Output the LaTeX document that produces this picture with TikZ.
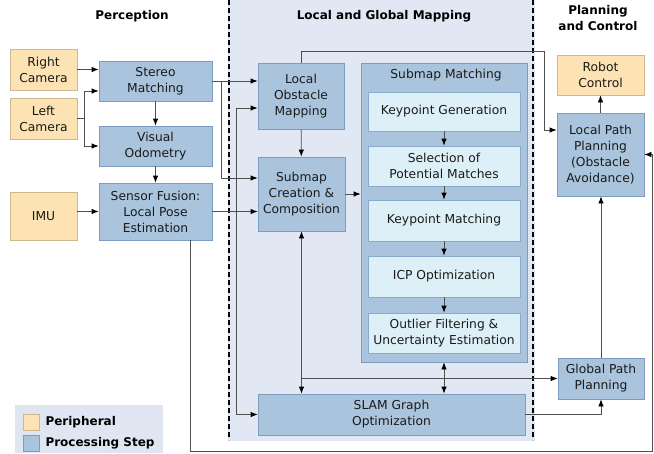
\documentclass[tikz,border=0pt]{standalone}
\usepackage{fontspec}
\setmainfont{DejaVu Sans}
\usetikzlibrary{arrows.meta}
\definecolor{pfill}{HTML}{FDE3B4}
\definecolor{pbord}{HTML}{CDB98F}
\definecolor{bfill}{HTML}{A9C4DC}
\definecolor{bbord}{HTML}{7C9DC0}
\definecolor{ifill}{HTML}{DDEFF7}
\definecolor{ibord}{HTML}{89AACB}
\definecolor{panel}{HTML}{E1E8F4}
\definecolor{legbg}{HTML}{DFE6F1}
\definecolor{lcol}{HTML}{505050}
\definecolor{txt}{HTML}{1A1A1A}
\tikzset{
  box/.style={draw=bbord, fill=bfill, line width=0.8pt, align=center, inner sep=0pt,
    font=\fontsize{12.3}{16}\selectfont, text=txt},
  per/.style={box, draw=pbord, fill=pfill},
  inbox/.style={box, draw=ibord, fill=ifill},
  ttl/.style={font=\fontsize{12}{16}\selectfont\bfseries, align=center, text=black},
  conn/.style={draw=lcol, line width=0.8pt},
  arr/.style={conn, -{Latex[length=7pt,width=5.5pt,color=black]}},
  both/.style={conn, {Latex[length=7pt,width=5.5pt,color=black]}-{Latex[length=7pt,width=5.5pt,color=black]}},
  sep/.style={draw=black, line width=1.1pt, dash pattern=on 5pt off 3pt}
}
\begin{document}
\begin{tikzpicture}[x=1pt,y=-1pt]
\useasboundingbox (0,0) rectangle (654,453);
% panel and separators
\fill[panel] (228,0) rectangle (535,441);
\draw[sep] (229,0) -- (229,440);
\draw[sep] (533,0) -- (533,440);
% titles
\node[ttl] (t1) at (132,16) {Perception};
\node[ttl] (t2) at (384,16) {Local and Global Mapping};
\node[ttl] (t3) at (598,18) {Planning\\and Control};
% legend
\fill[legbg] (15,405) rectangle (163,453);
\node[per, minimum width=16pt, minimum height=16pt] (lg1) at (31,422) {};
\node[box, minimum width=16pt, minimum height=16pt] (lg2) at (31,443) {};
\node[ttl, anchor=west] (lt1) at (42,422) {Peripheral};
\node[ttl, anchor=west] (lt2) at (42,443) {Processing Step};
% perception
\node[per, minimum width=67pt, minimum height=41pt] (rc) at (43.5,69.5) {Right\\Camera};
\node[per, minimum width=67pt, minimum height=41pt] (lc) at (43.5,118.5) {Left\\Camera};
\node[per, minimum width=67pt, minimum height=48pt] (imu) at (43.5,216) {IMU};
\node[box, minimum width=113pt, minimum height=40pt] (sm) at (155.5,81) {Stereo\\Matching};
\node[box, minimum width=113pt, minimum height=40pt] (vo) at (155.5,146) {Visual\\Odometry};
\node[box, minimum width=113pt, minimum height=57pt] (sf) at (155.5,211.5) {Sensor Fusion:\\Local Pose\\Estimation};
% mapping
\node[box, minimum width=86pt, minimum height=66pt] (lom) at (301,96) {Local\\Obstacle\\Mapping};
\node[box, minimum width=87pt, minimum height=74pt] (sc) at (301.5,194) {Submap\\Creation \&\\Composition};
\node[box, minimum width=166pt, minimum height=299pt] (smc) at (444,212.5) {};
\node[box, draw=none, fill=none] (smt) at (446,75) {Submap Matching};
\node[inbox, minimum width=152pt, minimum height=39pt] (kg) at (444,111.5) {Keypoint Generation};
\node[inbox, minimum width=152pt, minimum height=40pt] (sel) at (444,166) {Selection of\\Potential Matches};
\node[inbox, minimum width=152pt, minimum height=41pt] (km) at (444,220.5) {Keypoint Matching};
\node[inbox, minimum width=152pt, minimum height=41pt] (icp) at (444,276.5) {ICP Optimization};
\node[inbox, minimum width=152pt, minimum height=40pt] (out) at (444,333) {Outlier Filtering \&\\Uncertainty Estimation};
\node[box, minimum width=267pt, minimum height=41pt] (slam) at (391.5,414.5) {SLAM Graph\\Optimization};
% planning
\node[per, minimum width=87pt, minimum height=40pt] (rob) at (600.5,75) {Robot\\Control};
\node[box, minimum width=87pt, minimum height=83pt] (lpp) at (600.5,154.5) {Local Path\\Planning\\(Obstacle\\Avoidance)};
\node[box, minimum width=86pt, minimum height=41pt] (gpp) at (601,378.5) {Global Path\\Planning};
% connectors
\draw[arr] (rc.east) -- (rc.east -| sm.west);
\draw[arr] (lc.east) -- ++(7,0) |- ([yshift=-10pt]sm.west);
\draw[arr] (lc.east) -- ++(7,0) |- (vo.west);
\draw[arr] (sm) -- (vo);
\draw[arr] (vo) -- (sf);
\draw[arr] (imu.east |- sf) -- (sf.west);
\draw[arr] (sm.east) -- (sm.east -| lom.west);
\draw[arr] (sm.east) -- ++(9,0) |- ([yshift=16pt]sc.west);
\draw[arr] (sf.east) -- (sf.east -| sc.west);
\draw[arr] (lom) -- (sc);
\draw[arr] (sc.east) -- (sc.east -| smc.west);
\draw[arr] (kg) -- (sel);
\draw[arr] (sel) -- (km);
\draw[arr] (km) -- (icp);
\draw[arr] (icp) -- (out);
\draw[arr] (lom.north) -- ++(0,-11) -- ++(243,0) |- ([yshift=24.5pt]lpp.west);
\draw[both] ([yshift=-12pt]lom.west) -- ++(-21,0) |- (slam.west);
\draw[both] (sc.south) -- (sc.south |- slam.north);
\draw[arr] (sc.south |- gpp.west) -- (gpp.west);
\draw[both] (smc.south) -- (smc.south |- slam.north);
\draw[arr] (slam.east) -| (gpp.south);
\draw[arr] (gpp.north) -- (gpp.north |- lpp.south);
\draw[arr] (lpp) -- (rob);
\coordinate (loopc) at (652,451);
\draw[arr] ([xshift=34.5pt]sf.south) |- (loopc) |- (lpp.east);
\end{tikzpicture}
\end{document}
